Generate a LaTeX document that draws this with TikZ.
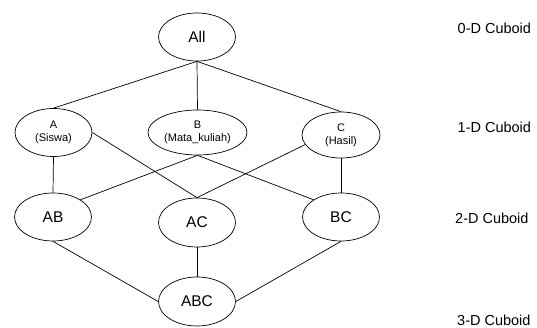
\documentclass[tikz,border=0pt]{standalone}
\usepackage{fontspec}
\setmainfont{Liberation Sans}
\usetikzlibrary{shapes.geometric}
\begin{document}
\begin{tikzpicture}[x=1pt,y=-1pt,
  cub/.style={ellipse,draw,line width=0.7pt,inner sep=0pt,minimum width=77pt,minimum height=48pt,font=\fontsize{15.5}{17}\selectfont},
  cubs/.style={cub,align=center,font=\fontsize{11}{13}\selectfont},
  edge/.style={line width=0.7pt},
  lvl/.style={anchor=west,inner sep=0pt,font=\fontsize{14.5}{16}\selectfont}]
\useasboundingbox (0,0) rectangle (537,328);
\node[cub] (All) at (197,37) {All};
\node[cubs] (A) at (53.5,132.5) {A\\(Siswa)};
\node[cubs,minimum width=99pt,minimum height=45pt] (B) at (197.5,132.5) {B\\(Mata\_kuliah)};
\node[cubs,minimum width=78pt,minimum height=46pt] (C) at (341,135) {C\\(Hasil)};
\node[cub] (AB) at (53,217) {AB};
\node[cub,minimum height=49pt] (AC) at (197,222.5) {AC};
\node[cub] (BC) at (341,217) {BC};
\node[cub,minimum height=49pt] (ABC) at (197,301.5) {ABC};
\draw[edge] (All.south) -- (A.north);
\draw[edge] (All.south) -- (B.north);
\draw[edge] (All.south) -- (C.north);
\draw[edge] (A.south) -- (AB.north);
\draw[edge] (A.east) -- (AC.north);
\draw[edge] (B.south) -- (AB.north east);
\draw[edge] (B.south) -- (BC.north west);
\draw[edge] (C.195) -- (AC.north);
\draw[edge] (C.south) -- (BC.north);
\draw[edge] (AB.south) -- (ABC.west);
\draw[edge] (AC.south) -- (ABC.north);
\draw[edge] (BC.south) -- (ABC.east);
\node[lvl] (l0) at (457.5,28) {0-D Cuboid};
\node[lvl] (l1) at (457.5,127.5) {1-D Cuboid};
\node[lvl] (l2) at (455,218.5) {2-D Cuboid};
\node[lvl] (l3) at (457,320.5) {3-D Cuboid};
\end{tikzpicture}
\end{document}
